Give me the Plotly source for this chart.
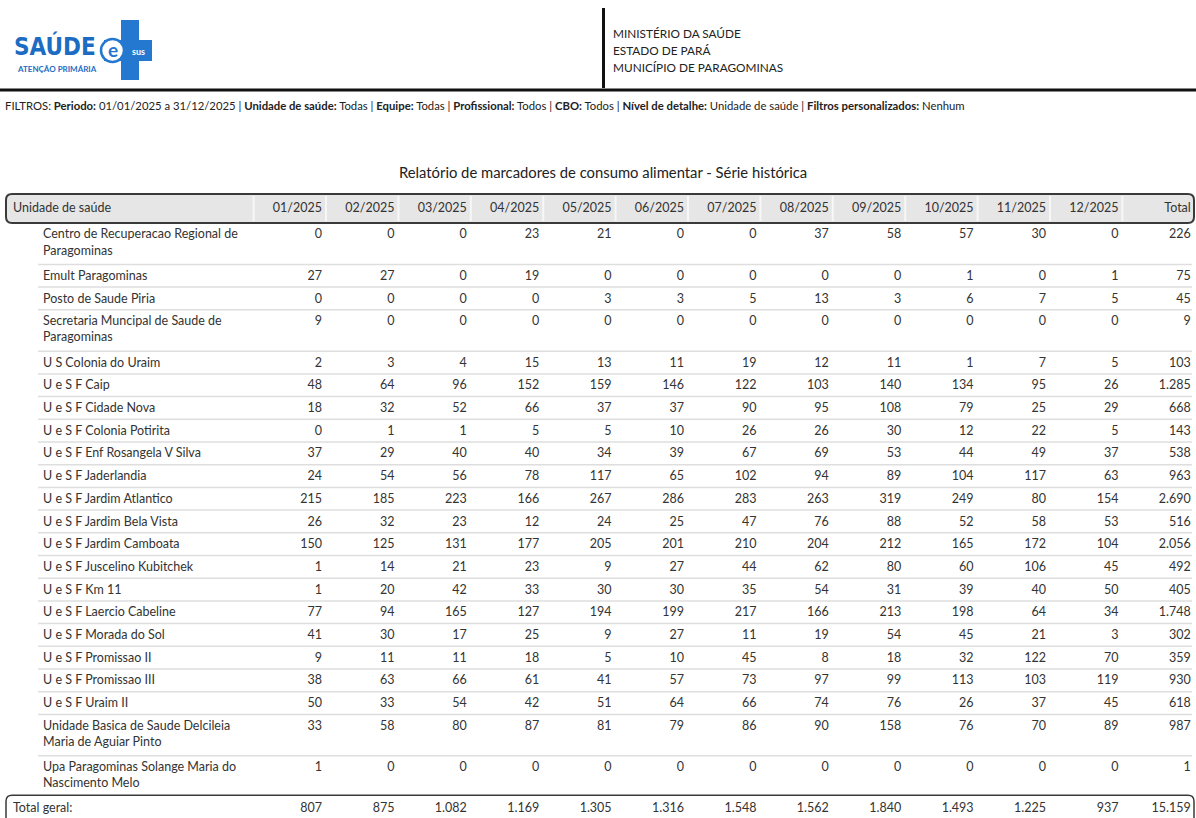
import plotly.graph_objects as go

# ---------------- data ----------------
units = [
    "Centro de Recuperacao Regional de<br>Paragominas",
    "Emult Paragominas",
    "Posto de Saude Piria",
    "Secretaria Muncipal de Saude de<br>Paragominas",
    "U S Colonia do Uraim",
    "U e S F Caip",
    "U e S F Cidade Nova",
    "U e S F Colonia Potirita",
    "U e S F Enf Rosangela V Silva",
    "U e S F Jaderlandia",
    "U e S F Jardim Atlantico",
    "U e S F Jardim Bela Vista",
    "U e S F Jardim Camboata",
    "U e S F Juscelino Kubitchek",
    "U e S F Km 11",
    "U e S F Laercio Cabeline",
    "U e S F Morada do Sol",
    "U e S F Promissao II",
    "U e S F Promissao III",
    "U e S F Uraim II",
    "Unidade Basica de Saude Delcileia<br>Maria de Aguiar Pinto",
    "Upa Paragominas Solange Maria do<br>Nascimento Melo",
]

months = ["01/2025", "02/2025", "03/2025", "04/2025", "05/2025", "06/2025",
          "07/2025", "08/2025", "09/2025", "10/2025", "11/2025", "12/2025"]

m01 = [0, 27, 0, 9, 2, 48, 18, 0, 37, 24, 215, 26, 150, 1, 1, 77, 41, 9, 38, 50, 33, 1]
m02 = [0, 27, 0, 0, 3, 64, 32, 1, 29, 54, 185, 32, 125, 14, 20, 94, 30, 11, 63, 33, 58, 0]
m03 = [0, 0, 0, 0, 4, 96, 52, 1, 40, 56, 223, 23, 131, 21, 42, 165, 17, 11, 66, 54, 80, 0]
m04 = [23, 19, 0, 0, 15, 152, 66, 5, 40, 78, 166, 12, 177, 23, 33, 127, 25, 18, 61, 42, 87, 0]
m05 = [21, 0, 3, 0, 13, 159, 37, 5, 34, 117, 267, 24, 205, 9, 30, 194, 9, 5, 41, 51, 81, 0]
m06 = [0, 0, 3, 0, 11, 146, 37, 10, 39, 65, 286, 25, 201, 27, 30, 199, 27, 10, 57, 64, 79, 0]
m07 = [0, 0, 5, 0, 19, 122, 90, 26, 67, 102, 283, 47, 210, 44, 35, 217, 11, 45, 73, 66, 86, 0]
m08 = [37, 0, 13, 0, 12, 103, 95, 26, 69, 94, 263, 76, 204, 62, 54, 166, 19, 8, 97, 74, 90, 0]
m09 = [58, 0, 3, 0, 11, 140, 108, 30, 53, 89, 319, 88, 212, 80, 31, 213, 54, 18, 99, 76, 158, 0]
m10 = [57, 1, 6, 0, 1, 134, 79, 12, 44, 104, 249, 52, 165, 60, 39, 198, 45, 32, 113, 26, 76, 0]
m11 = [30, 0, 7, 0, 7, 95, 25, 22, 49, 117, 80, 58, 172, 106, 40, 64, 21, 122, 103, 37, 70, 0]
m12 = [0, 1, 5, 0, 5, 26, 29, 5, 37, 63, 154, 53, 104, 45, 50, 34, 3, 70, 119, 45, 89, 0]
row_totals = [226, 75, 45, 9, 103, 1285, 668, 143, 538, 963, 2690, 516, 2056, 492, 405,
              1748, 302, 359, 930, 618, 987, 1]

month_totals = [807, 875, 1082, 1169, 1305, 1316, 1548, 1562, 1840, 1493, 1225, 937]
grand_total = 15159

total_label = "Total geral:"
header_first = "Unidade de saúde"
header_last = "Total"

title_text = "Relatório de marcadores de consumo alimentar - Série histórica"
gov_lines = ["MINISTÉRIO DA SAÚDE", "ESTADO DE PARÁ", "MUNICÍPIO DE PARAGOMINAS"]
filters = [("Periodo:", "01/01/2025 a 31/12/2025"), ("Unidade de saúde:", "Todas"),
           ("Equipe:", "Todas"), ("Profissional:", "Todos"), ("CBO:", "Todos"),
           ("Nível de detalhe:", "Unidade de saúde"), ("Filtros personalizados:", "Nenhum")]

# ---------------- layout constants ----------------
W, H = 1196, 818
FONT = "Lato, 'Open Sans', sans-serif"
FS = 12.5
TXT = "#333333"
RIGHT0, STEP = 322, 72.4
NAME_X, HEAD_X = 43, 13
HEAD_TOP, HEAD_BOT = 194, 223
SINGLE, DOUBLE = 22.7, 41.4
LS = 1.3 * FS
TEXT_OFF = 12.3


def fmt(v):
    return f"{v:,}".replace(",", ".")


month_cols = [m01, m02, m03, m04, m05, m06, m07, m08, m09, m10, m11, m12]
rights = [RIGHT0 + i * STEP for i in range(13)]

# row geometry
tops = []
y = HEAD_BOT
for u in units:
    n = u.count("<br>") + 1
    tops.append(y)
    y += SINGLE if n == 1 else DOUBLE
total_top = y
first_line_y = [t + TEXT_OFF for t in tops]
name_y = [t + TEXT_OFF + (u.count("<br>")) * LS / 2 for t, u in zip(tops, units)]
total_y = total_top + 12
head_y = (HEAD_TOP + HEAD_BOT) / 2 + 0.5

fig = go.Figure()
font = dict(family=FONT, size=FS, color=TXT)

# header row
fig.add_trace(go.Scatter(
    x=[HEAD_X], y=[head_y], mode="text", text=[header_first],
    textposition="middle right", textfont=font, hoverinfo="skip"))
fig.add_trace(go.Scatter(
    x=rights, y=[head_y] * 13, mode="text", text=months + [header_last],
    textposition="middle left", textfont=font, hoverinfo="skip"))

# unit names
fig.add_trace(go.Scatter(
    x=[NAME_X] * len(units), y=name_y, mode="text", text=units,
    textposition="middle right", textfont=font, hoverinfo="skip"))

# monthly values + totals
for i, col in enumerate(month_cols + [row_totals]):
    fig.add_trace(go.Scatter(
        x=[rights[i]] * len(col), y=first_line_y, mode="text",
        text=[fmt(v) for v in col], textposition="middle left",
        textfont=font, hoverinfo="skip"))

# total row
fig.add_trace(go.Scatter(
    x=[HEAD_X], y=[total_y], mode="text", text=[total_label],
    textposition="middle right", textfont=font, hoverinfo="skip"))
fig.add_trace(go.Scatter(
    x=rights, y=[total_y] * 13, mode="text",
    text=[fmt(v) for v in month_totals + [grand_total]],
    textposition="middle left", textfont=font, hoverinfo="skip"))


def rrect(x0, y0, x1, y1, r):
    return (f"M {x0 + r},{y0} L {x1 - r},{y0} Q {x1},{y0} {x1},{y0 + r} "
            f"L {x1},{y1 - r} Q {x1},{y1} {x1 - r},{y1} L {x0 + r},{y1} "
            f"Q {x0},{y1} {x0},{y1 - r} L {x0},{y0 + r} Q {x0},{y0} {x0 + r},{y0} Z")


shapes = []
# header box
shapes.append(dict(type="path", path=rrect(6, HEAD_TOP, 1194, HEAD_BOT, 6),
                   fillcolor="#e6e6e6", line=dict(color="#3a3a3a", width=2), layer="below"))
# header separators
for xr in [RIGHT0 - STEP] + rights[:-1]:
    shapes.append(dict(type="line", x0=xr + 4, x1=xr + 4, y0=HEAD_TOP + 2, y1=HEAD_BOT - 2,
                       line=dict(color="#f7f7f7", width=2), layer="below"))
# row separators
for t in tops[1:]:
    shapes.append(dict(type="line", x0=38, x1=1192, y0=t, y1=t,
                       line=dict(color="#dedede", width=1.5), layer="below"))
# total box
shapes.append(dict(type="path", path=rrect(6, total_top - 2, 1194, total_top + 40, 6),
                   fillcolor="white", line=dict(color="#3a3a3a", width=1.5), layer="below"))
# top rules
shapes.append(dict(type="line", x0=603.5, x1=603.5, y0=8, y1=88,
                   line=dict(color="#111111", width=3), layer="below"))
shapes.append(dict(type="line", x0=0, x1=W, y0=90, y1=90,
                   line=dict(color="#111111", width=3), layer="below"))
# logo cross
BLUE = "#2478cf"
shapes.append(dict(type="rect", x0=121, x1=139, y0=20, y1=80, fillcolor=BLUE,
                   line=dict(width=0), layer="below"))
shapes.append(dict(type="rect", x0=104, x1=152, y0=40, y1=61, fillcolor=BLUE,
                   line=dict(width=0), layer="below"))
shapes.append(dict(type="circle", x0=101, x1=124, y0=39, y1=62, fillcolor="white",
                   line=dict(color=BLUE, width=2.5), layer="below"))

annotations = []
annotations.append(dict(x=12, y=46, xref="x", yref="y", text="<b>SAÚDE</b>",
                        showarrow=False, xanchor="left", yanchor="middle",
                        font=dict(family="DejaVu Sans Condensed, DejaVu Sans", size=24,
                                  color="#1c6cc4")))
annotations.append(dict(x=15, y=69, xref="x", yref="y", text="<b>ATENÇÃO PRIMÁRIA</b>",
                        showarrow=False, xanchor="left", yanchor="middle",
                        font=dict(family="Lato", size=8, color="#1c6cc4")))
annotations.append(dict(x=112.5, y=49.5, xref="x", yref="y", text="<b>e</b>",
                        showarrow=False, xanchor="center", yanchor="middle",
                        font=dict(family="Lato", size=19, color=BLUE)))
annotations.append(dict(x=138, y=51, xref="x", yref="y", text="<b>sus</b>",
                        showarrow=False, xanchor="center", yanchor="middle",
                        font=dict(family="Lato", size=9, color="white")))
for i, line in enumerate(gov_lines):
    annotations.append(dict(x=611, y=33 + i * 17, xref="x", yref="y", text=line,
                            showarrow=False, xanchor="left", yanchor="middle",
                            font=dict(family=FONT, size=11.8, color="#222222")))
filter_text = "FILTROS: " + " | ".join(f"<b>{k}</b> {v}" for k, v in filters)
annotations.append(dict(x=3, y=105, xref="x", yref="y", text=filter_text,
                        showarrow=False, xanchor="left", yanchor="middle",
                        font=dict(family=FONT, size=11.3, color="#222222")))
annotations.append(dict(x=603, y=172, xref="x", yref="y", text=title_text,
                        showarrow=False, xanchor="center", yanchor="middle",
                        font=dict(family=FONT, size=14.8, color="#222222")))

fig.update_layout(
    width=W, height=H, margin=dict(l=0, r=0, t=0, b=0),
    paper_bgcolor="white", plot_bgcolor="white", showlegend=False,
    xaxis=dict(range=[0, W], visible=False, fixedrange=True),
    yaxis=dict(range=[H, 0], visible=False, fixedrange=True),
    shapes=shapes, annotations=annotations,
)
fig.write_html("out.html", config={"displayModeBar": False},
               post_script="document.body.style.margin='0';"
                           "document.body.style.overflow='hidden';")
